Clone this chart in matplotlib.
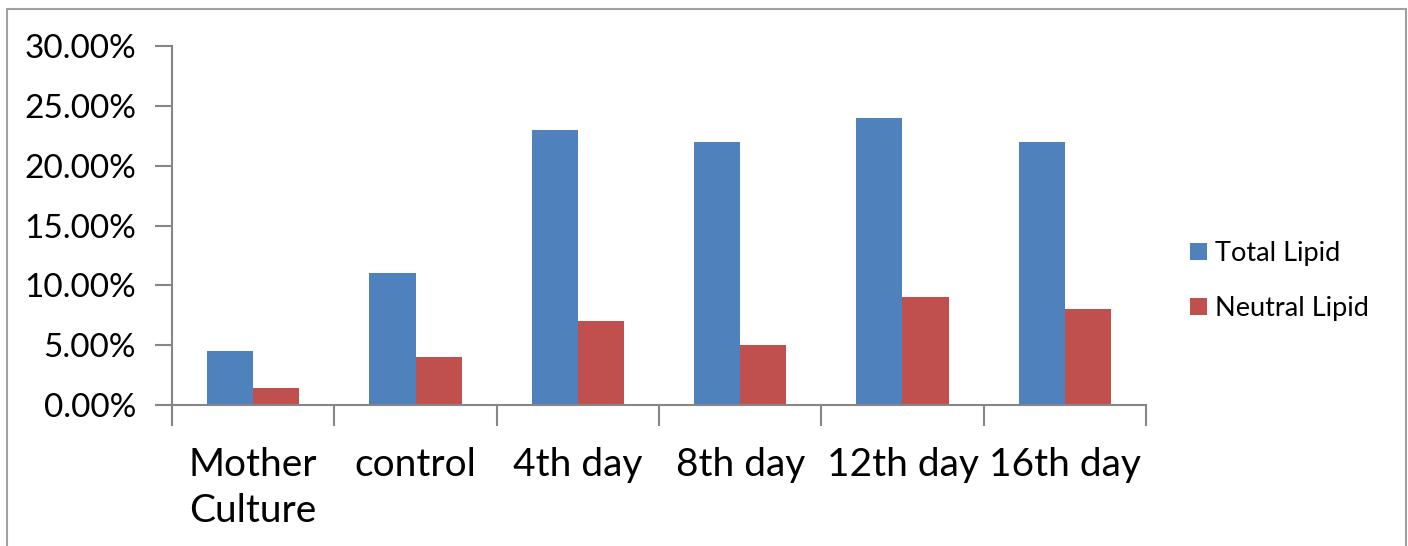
import matplotlib
matplotlib.use("Agg")
import matplotlib.pyplot as plt
import numpy as np
from matplotlib.patches import Rectangle
from matplotlib.ticker import FuncFormatter, MultipleLocator

categories = ["Mother\nCulture", "control", "4th day", "8th day", "12th day", "16th day"]
total_lipid = [4.5, 11.0, 23.0, 22.0, 24.0, 22.0]
neutral_lipid = [1.4, 4.0, 7.0, 5.0, 9.0, 8.0]
series_names = ["Total Lipid", "Neutral Lipid"]
colors = ["#4F81BD", "#C0504D"]

plt.rcParams["font.family"] = ["Lato", "DejaVu Sans"]

W, H = 1408, 546
fig = plt.figure(figsize=(W / 100, H / 100), dpi=100)
ax = fig.add_axes([172 / W, 1 - 405 / H, (1146 - 172) / W, (405 - 46) / H])

x = np.arange(len(categories))
bw = 0.284
ax.bar(x - bw / 2, total_lipid, bw, color=colors[0], label=series_names[0])
ax.bar(x + bw / 2, neutral_lipid, bw, color=colors[1], label=series_names[1])

ax.set_xlim(-0.5, len(categories) - 0.5)
ax.set_ylim(0, 30)
ax.yaxis.set_major_locator(MultipleLocator(5))
ax.yaxis.set_major_formatter(FuncFormatter(lambda v, p: f"{v:.2f}%"))

ax.set_xticks(np.arange(-0.5, len(categories), 1.0))
ax.set_xticklabels([])
ax.set_xticks(x, minor=True)
ax.set_xticklabels(categories, minor=True, fontsize=28, linespacing=1.35)
ax.tick_params(axis="x", which="major", length=15, width=1.5, color="#868686", direction="out")
ax.tick_params(axis="x", which="minor", length=0, pad=30)
ax.tick_params(axis="y", length=12, width=1.5, color="#868686", labelsize=24, pad=14)

for s in ["top", "right"]:
    ax.spines[s].set_visible(False)
for s in ["left", "bottom"]:
    ax.spines[s].set_color("#868686")
    ax.spines[s].set_linewidth(1.5)

leg = fig.legend(loc="center left", bbox_to_anchor=(1166 / W, 1 - 281 / H), frameon=False,
                 fontsize=19.5, handlelength=0.6, handleheight=0.6, handletextpad=0.3,
                 labelspacing=1.1)

fig.patches.append(Rectangle((7 / W, -0.05), (1406 - 7) / W, 1 - 9 / H + 0.05,
                             transform=fig.transFigure, fill=False,
                             edgecolor="#A0A0A0", linewidth=1.5))

fig.savefig("out.png", dpi=100, facecolor="white")
